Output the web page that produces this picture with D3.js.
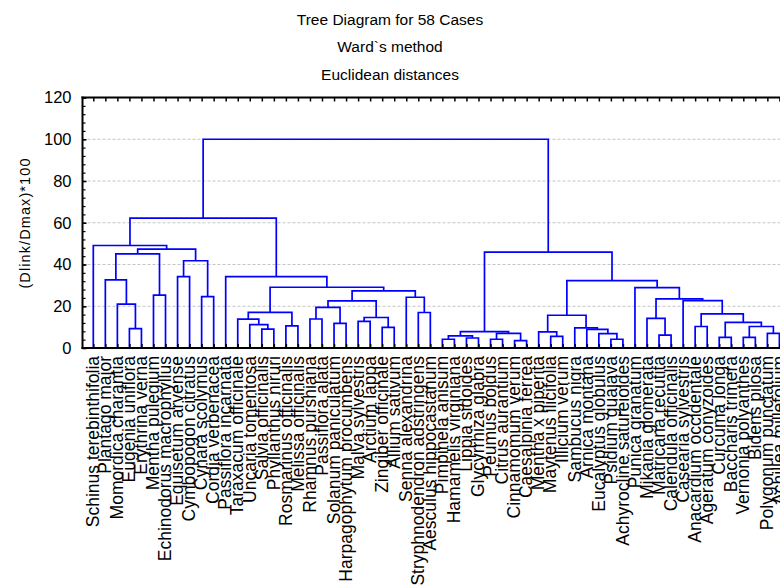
<!DOCTYPE html>
<html><head><meta charset="utf-8">
<script src="https://cdn.jsdelivr.net/npm/d3@7"></script>
<style>body{margin:0;background:#fff} svg{display:block} text{font-family:"Liberation Sans",Arial,sans-serif;fill:#000}</style>
</head><body>
<svg id="c" width="780" height="586"></svg>
<script>
const titleLines = ["Tree Diagram for 58 Cases", "Ward`s method", "Euclidean distances"];
const yTitle = "(Dlink/Dmax)*100";
const yTicks = [0, 20, 40, 60, 80, 100, 120];

const labels = [
  "Schinus terebinthifolia", "Plantago major", "Momordica charantia", "Eugenia uniflora",
  "Erythrina verna", "Mentha pulegium", "Echinodorus macrophyllus", "Equisetum arvense",
  "Cymbopogon citratus", "Cynara scolymus", "Cordia verbenacea", "Passiflora incarnata",
  "Taraxacum officinale", "Uncaria tomentosa", "Salvia officinalis", "Phyllanthus niruri",
  "Rosmarinus officinalis", "Melissa officinalis", "Rhamnus purshiana", "Passiflora alata",
  "Solanum paniculatum", "Harpagophytum procumbens", "Malva sylvestris", "Arctium lappa",
  "Zingiber officinale", "Allium sativum", "Senna alexandrina", "Stryphnodendron adstringens",
  "Aesculus hippocastanum", "Pimpinela anisum", "Hamamelis virginiana", "Lippia sidoides",
  "Glycyrrhiza glabra", "Peumus boldus", "Citrus aurantium", "Cinnamomum verum",
  "Caesalpinia ferrea", "Mentha x piperita", "Maytenus ilicifolia", "Illicium verum",
  "Sambucus nigra", "Arnica montana", "Eucalyptus globulus", "Psidium guajava",
  "Achyrocline satureioides", "Punica granatum", "Mikania glomerata", "Matricaria recutita",
  "Calendula officinalis", "Casearia sylvestris", "Anacardium occidentale", "Ageratum conyzoides",
  "Curcuma longa", "Baccharis trimera", "Vernonia polyanthes", "Bidens pilosa",
  "Polygonum punctatum", "Achillea millefolium"
];

// Linkage rows: [childA, childB, linkage distance]; index < 58 = case, index >= 58 = earlier row (index - 58)
const linkage = [
  [3, 4, 9.3], [2, 58, 21.0], [1, 59, 32.6], [5, 6, 25.3], [60, 61, 45.1],
  [7, 8, 34.2], [9, 10, 24.6], [63, 64, 41.8], [62, 65, 47.4], [0, 66, 49.1],
  [14, 15, 9.0], [13, 68, 11.2], [12, 69, 13.8], [16, 17, 10.6], [70, 71, 17.1],
  [18, 19, 13.9], [20, 21, 11.8], [73, 74, 19.5], [22, 23, 12.8], [24, 25, 9.9],
  [76, 77, 14.6], [75, 78, 22.6], [27, 28, 17.0], [26, 80, 24.3], [79, 81, 27.4],
  [72, 82, 29.1], [11, 83, 34.2], [67, 84, 62.2],
  [29, 30, 4.2], [31, 32, 4.8], [86, 87, 5.8], [33, 34, 4.2], [35, 36, 3.5],
  [89, 90, 7.0], [88, 91, 7.8],
  [38, 39, 5.6], [37, 93, 7.7], [43, 44, 4.2], [42, 95, 6.9], [41, 96, 8.9],
  [40, 97, 9.6], [94, 98, 15.7],
  [47, 48, 6.2], [46, 100, 14.2], [50, 51, 10.3], [52, 53, 5.1], [54, 55, 5.1],
  [56, 57, 7.0], [104, 105, 10.3], [103, 106, 12.3], [102, 107, 16.3], [49, 108, 22.7],
  [101, 109, 23.5], [45, 110, 28.9], [99, 111, 32.3], [92, 112, 45.9], [85, 113, 100]
];

const svg = d3.select("#c");
const pL = 82.5, pR = 790, pT = 97.5, pB = 348;

const x = d3.scalePoint().domain(d3.range(labels.length)).range([93.3, 779.4]);
const y = d3.scaleLinear().domain([0, 120]).range([pB, pT]);

// titles
svg.selectAll("text.title").data(titleLines).join("text")
  .attr("class", "title")
  .attr("x", 390).attr("y", (d, i) => 25 + i * 27.3)
  .attr("text-anchor", "middle").style("font-size", "15.5px")
  .text(d => d);

// gridlines
svg.append("g").selectAll("line").data(yTicks.filter(v => v > 0 && v < 120)).join("line")
  .attr("x1", pL).attr("x2", pR)
  .attr("y1", d => y(d)).attr("y2", d => y(d))
  .attr("stroke", "#c4c4c4").attr("stroke-width", 1).attr("stroke-dasharray", "3,2");

// node positions
const nCases = labels.length;
const pos = [];
for (let i = 0; i < nCases; i++) pos.push({ x: x(i), h: 0 });
linkage.forEach(([a, b, h]) => pos.push({ x: (pos[a].x + pos[b].x) / 2, h }));

// tree links
svg.append("g").selectAll("path").data(linkage).join("path")
  .attr("fill", "none").attr("stroke", "#0000ff").attr("stroke-width", 1.7)
  .attr("d", ([a, b, h]) => {
    const p = d3.path();
    p.moveTo(pos[a].x, y(pos[a].h));
    p.lineTo(pos[a].x, y(h));
    p.lineTo(pos[b].x, y(h));
    p.lineTo(pos[b].x, y(pos[b].h));
    return p.toString();
  });

// left axis
const gy = svg.append("g").attr("transform", `translate(${pL},0)`)
  .call(d3.axisLeft(y).tickValues(yTicks).tickSize(-4).tickPadding(11).tickSizeOuter(0));
gy.select(".domain").remove();
gy.selectAll(".tick line").attr("stroke", "#000").attr("stroke-width", 1.5);
gy.selectAll(".tick text").style("font-size", "16.5px").style("font-family", '"Liberation Sans",Arial,sans-serif');
const gyMinor = svg.append("g").attr("transform", `translate(${pL},0)`)
  .call(d3.axisLeft(y).tickValues(d3.range(0, 121, 4)).tickSize(-3).tickFormat("").tickSizeOuter(0));
gyMinor.select(".domain").remove();
gyMinor.selectAll(".tick line").attr("stroke", "#000").attr("stroke-width", 1.2);

// top axis ticks
const gt = svg.append("g").attr("transform", `translate(0,${pT})`)
  .call(d3.axisTop(x).tickSize(-4).tickFormat("").tickSizeOuter(0));
gt.select(".domain").remove();
gt.selectAll(".tick line").attr("stroke", "#000").attr("stroke-width", 1.5);

// bottom axis with case labels
const gb = svg.append("g").attr("transform", `translate(0,${pB})`)
  .call(d3.axisBottom(x).tickSize(-4).tickSizeOuter(0).tickFormat(i => labels[i]));
gb.select(".domain").remove();
gb.selectAll(".tick line").attr("stroke", "#000").attr("stroke-width", 1.5);
gb.selectAll(".tick text")
  .attr("transform", "rotate(-90)")
  .attr("x", -8).attr("y", 0).attr("dy", "0.3em")
  .attr("text-anchor", "end")
  .style("font-size", "17.5px").style("font-family", '"Liberation Sans",Arial,sans-serif');

// frame lines
svg.append("line").attr("x1", pL).attr("x2", pL).attr("y1", pT - 1).attr("y2", pB + 1)
  .attr("stroke", "#000").attr("stroke-width", 2);
svg.append("line").attr("x1", pL - 1).attr("x2", pR).attr("y1", pT).attr("y2", pT)
  .attr("stroke", "#000").attr("stroke-width", 2);
svg.append("line").attr("x1", pL - 1).attr("x2", pR).attr("y1", pB).attr("y2", pB)
  .attr("stroke", "#000").attr("stroke-width", 2);

// y title
svg.append("text")
  .attr("transform", "translate(30,223) rotate(-90)")
  .attr("text-anchor", "middle")
  .style("font-size", "14.5px").style("letter-spacing", "1.1px")
  .text(yTitle);
</script>
</body></html>
